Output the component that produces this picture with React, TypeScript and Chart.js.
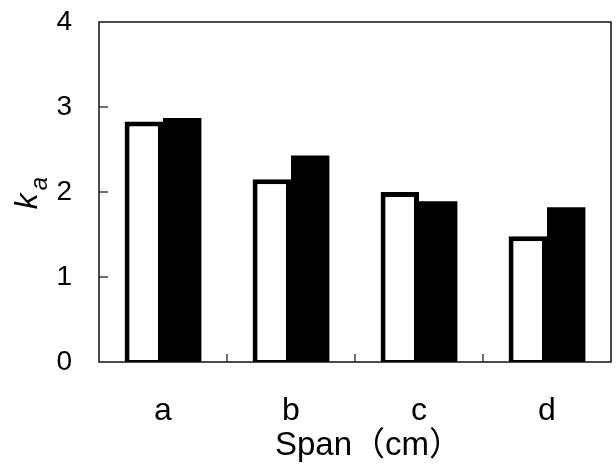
import React, { useEffect, useRef } from "react";
import { Chart, registerables } from "chart.js";

Chart.register(...registerables);

const categories = ["a", "b", "c", "d"];
const openValues = [2.83, 2.15, 2.0, 1.48];
const filledValues = [2.87, 2.43, 1.89, 1.82];
const yTickValues = [0, 1, 2, 3, 4];
const xTitle = "Span（cm）";
const yTitleMain = "k";
const yTitleSub = "a";

const FONT = "'Liberation Sans', Arial, 'Noto Sans CJK JP', sans-serif";

const framePlugin = {
  id: "frame",
  afterDraw(chart: any) {
    const { ctx, chartArea, scales } = chart;
    const { left, top, right, bottom } = chartArea;
    const x = scales.x;
    const y = scales.y;
    ctx.save();
    ctx.strokeStyle = "#111";
    ctx.lineWidth = 1.5;
    ctx.strokeRect(left, top, right - left, bottom - top);
    ctx.lineWidth = 1.2;
    for (const v of yTickValues) {
      if (v <= yTickValues[0] || v >= yTickValues[yTickValues.length - 1]) continue;
      const py = y.getPixelForValue(v);
      ctx.beginPath();
      ctx.moveTo(left, py);
      ctx.lineTo(left + 9, py);
      ctx.stroke();
    }
    for (let i = 1; i < categories.length; i++) {
      const px = (x.getPixelForValue(i - 1) + x.getPixelForValue(i)) / 2;
      ctx.beginPath();
      ctx.moveTo(px, bottom);
      ctx.lineTo(px, bottom - 8);
      ctx.stroke();
    }
    ctx.fillStyle = "#000";
    // x-axis title, ink-centred under the plot
    ctx.font = `33px ${FONT}`;
    ctx.textAlign = "left";
    ctx.textBaseline = "alphabetic";
    const m = ctx.measureText(xTitle);
    const inkL = -m.actualBoundingBoxLeft;
    const inkR = m.actualBoundingBoxRight;
    const cx = (left + right) / 2 + 3;
    ctx.fillText(xTitle, cx - (inkL + inkR) / 2, bottom + 93);
    // y-axis title: italic k with subscript a
    ctx.translate(27, (top + bottom) / 2 + 1);
    ctx.rotate(-Math.PI / 2);
    ctx.font = `italic 32px ${FONT}`;
    const wk = ctx.measureText(yTitleMain).width;
    ctx.font = `italic 24px ${FONT}`;
    const wa = ctx.measureText(yTitleSub).width;
    const gap = 3;
    const total = wk + wa + gap;
    ctx.font = `italic 32px ${FONT}`;
    ctx.fillText(yTitleMain, -total / 2, 10);
    ctx.font = `italic 24px ${FONT}`;
    ctx.fillText(yTitleSub, -total / 2 + wk + gap, 20);
    ctx.restore();
  },
};

export default function App() {
  const ref = useRef<HTMLCanvasElement | null>(null);
  useEffect(() => {
    if (!ref.current) return;
    const chart = new Chart(ref.current, {
      type: "bar",
      data: {
        labels: categories,
        datasets: [
          {
            data: openValues,
            backgroundColor: "#ffffff",
            borderColor: "#000000",
            borderWidth: { top: 5, left: 5, right: 5, bottom: 2 },
            borderSkipped: false,
            categoryPercentage: 0.6,
            barPercentage: 1.0,
          },
          {
            data: filledValues,
            backgroundColor: "#000000",
            borderColor: "#000000",
            borderWidth: 0,
            categoryPercentage: 0.6,
            barPercentage: 1.0,
          },
        ],
      },
      options: {
        animation: false,
        responsive: true,
        maintainAspectRatio: false,
        layout: { padding: { top: 0, right: 5, left: 0, bottom: 0 } },
        plugins: { legend: { display: false }, tooltip: { enabled: false } },
        scales: {
          x: {
            grid: { display: false, drawTicks: false },
            border: { display: false },
            ticks: { color: "#000", font: { family: FONT, size: 32 }, padding: 30 },
            afterFit(scale: any) {
              scale.height = 111;
            },
          },
          y: {
            min: 0,
            max: 4,
            afterBuildTicks(scale: any) {
              scale.ticks = yTickValues.map((v) => ({ value: v }));
            },
            grid: { display: false, drawTicks: false },
            border: { display: false },
            ticks: { color: "#000", font: { family: FONT, size: 28 }, padding: 27 },
            afterFit(scale: any) {
              scale.width = 99;
              scale.paddingTop = 22;
              scale.paddingBottom = 0;
            },
          },
        },
      },
      plugins: [framePlugin],
    });
    return () => chart.destroy();
  }, []);
  return (
    <div style={{ position: "fixed", left: 0, top: 0, width: 616, height: 473, background: "#fff" }}>
      <canvas ref={ref} />
    </div>
  );
}
